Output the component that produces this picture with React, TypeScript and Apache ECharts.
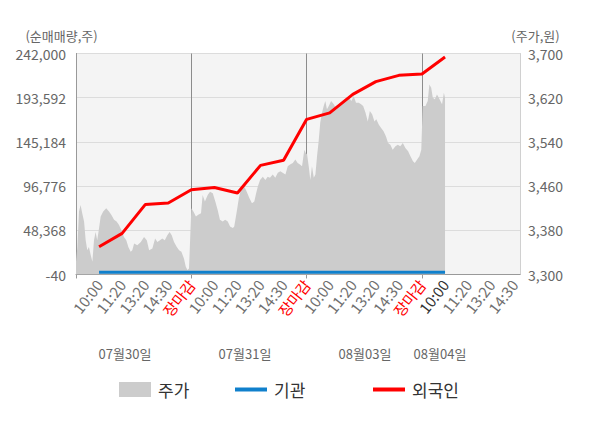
import React, { useEffect, useRef } from 'react';
import * as echarts from 'echarts';

// ---- data ----
const leftTicks = [-40, 48368, 96776, 145184, 193592, 242000];
const rightTicks = [3300, 3380, 3460, 3540, 3620, 3700];
const xLabelPos = [1, 2, 3, 4, 5, 6, 7, 8, 9, 10, 11, 12, 13, 14, 15, 16, 17, 18, 19];
const xLabels = [
  '10:00', '11:20', '13:20', '14:30', '장마감',
  '10:00', '11:20', '13:20', '14:30', '장마감',
  '10:00', '11:20', '13:20', '14:30', '장마감',
  '10:00', '11:20', '13:20', '14:30',
];
const dayBoundaries = [0, 5, 10, 15];
const dates = ['07월30일', '07월31일', '08월03일', '08월04일'];

const flowX = [1, 2, 3, 4, 5, 6, 7, 8, 9, 10, 11, 12, 13, 14, 15, 16];
const foreign = [30300, 45000, 76500, 78200, 92800, 95300, 89200, 119500, 125000, 169900, 177000, 197200, 211200, 218100, 219600, 238200];
const institution = [2500, 2500, 2500, 2500, 2500, 2500, 2500, 2500, 2500, 2500, 2500, 2500, 2500, 2500, 2500, 2500];

const priceX = [
  0, 0.06, 0.13, 0.2, 0.27, 0.35, 0.42, 0.49, 0.56, 0.64, 0.71, 0.78, 0.85, 0.92, 1.0, 1.07, 1.18, 1.31, 1.43, 1.53,
  1.65, 1.76, 1.86, 1.96, 2.08, 2.18, 2.27, 2.37, 2.44, 2.52, 2.66, 2.81, 2.95, 3.07, 3.17, 3.31, 3.43, 3.53, 3.64, 3.74,
  3.85, 3.96, 4.06, 4.15, 4.25, 4.37, 4.47, 4.57, 4.68, 4.76, 4.83, 4.9,
  5.0, 5.09, 5.2, 5.3, 5.42, 5.49, 5.59, 5.71, 5.81, 5.93, 6.04, 6.14, 6.24, 6.36, 6.47, 6.58, 6.68, 6.8, 6.86, 6.97,
  7.06, 7.16, 7.26, 7.37, 7.52, 7.63, 7.73, 7.81, 7.88, 7.98, 8.1, 8.21, 8.31, 8.41, 8.53, 8.64, 8.75, 8.86, 8.96, 9.08,
  9.18, 9.28, 9.4, 9.51, 9.61, 9.71, 9.8, 9.9, 9.96,
  10.02, 10.09, 10.16, 10.23, 10.31, 10.38, 10.45, 10.52, 10.59, 10.67, 10.74, 10.81, 10.88, 10.96, 11.06, 11.18, 11.29,
  11.39, 11.5, 11.61, 11.72, 11.83, 11.94, 12.04, 12.14, 12.26, 12.36, 12.45, 12.55, 12.65, 12.74, 12.84, 12.94, 13.02,
  13.13, 13.23, 13.34, 13.44, 13.53, 13.63, 13.73, 13.85, 13.95, 14.06, 14.17, 14.28, 14.4, 14.5, 14.61, 14.69, 14.79,
  14.89, 14.97,
  15.03, 15.15, 15.25, 15.32, 15.4, 15.47, 15.56, 15.65, 15.73, 15.8, 15.87, 15.95, 16.0,
];
const price = [
  3323, 3350, 3414, 3426, 3411, 3396, 3362, 3344, 3350, 3335, 3323, 3362, 3377, 3362, 3384, 3405, 3414, 3420, 3414, 3408,
  3399, 3396, 3390, 3381, 3368, 3362, 3350, 3341, 3344, 3356, 3353, 3359, 3368, 3362, 3344, 3347, 3365, 3359, 3362, 3365,
  3362, 3371, 3377, 3371, 3359, 3350, 3344, 3341, 3329, 3314, 3308, 3311,
  3420, 3414, 3405, 3408, 3411, 3444, 3432, 3444, 3450, 3447, 3432, 3417, 3399, 3396, 3399, 3396, 3387, 3384, 3387, 3414,
  3438, 3456, 3462, 3453, 3438, 3429, 3432, 3447, 3459, 3471, 3477, 3471, 3477, 3475, 3481, 3475, 3484, 3487, 3484, 3481,
  3496, 3499, 3502, 3508, 3502, 3499, 3496, 3526, 3520,
  3517, 3496, 3471, 3496, 3475, 3481, 3514, 3541, 3575, 3593, 3605, 3614, 3599, 3605, 3614, 3608, 3599,
  3605, 3611, 3614, 3617, 3620, 3614, 3623, 3611, 3611, 3608, 3605, 3593, 3577, 3596, 3590, 3577, 3581,
  3571, 3565, 3559, 3550, 3538, 3535, 3526, 3532, 3535, 3532, 3538, 3529, 3523, 3514, 3505, 3502, 3508,
  3514, 3526,
  3605, 3605, 3614, 3644, 3638, 3620, 3617, 3626, 3620, 3614, 3608, 3629, 3620,
];

const FONT = "'Noto Sans CJK KR', 'Noto Sans', sans-serif";

export default function App() {
  const ref = useRef<HTMLDivElement>(null);

  useEffect(() => {
    document.body.style.margin = '0';
    if (!ref.current) return;
    const chart = echarts.init(ref.current, undefined, { renderer: 'svg' });

    const fmt = (v: number) => Math.round(v).toLocaleString('en-US');

    const legendBase = {
      top: 376,
      icon: 'rect',
      itemWidth: 32,
      itemGap: 0,
      textStyle: { fontSize: 17, color: '#333', fontFamily: FONT, padding: [0, 0, 0, 2] },
    };

    chart.setOption({
      animation: false,
      textStyle: { fontFamily: FONT },
      grid: {
        left: 76,
        right: 80,
        top: 53.5,
        bottom: 153.5,
        containLabel: false,
        outerBoundsMode: 'none',
        show: true,
        backgroundColor: '#f4f4f4',
        borderWidth: 0,
      },
      legend: [
        { ...legendBase, left: 114, data: ['주가'], itemHeight: 15 },
        { ...legendBase, left: 230, data: ['기관'], itemHeight: 4 },
        { ...legendBase, left: 368, data: ['외국인'], itemHeight: 4 },
      ],
      xAxis: {
        type: 'value',
        min: 0,
        max: 19.25,
        axisLine: { show: true, lineStyle: { color: '#999', width: 1 } },
        axisTick: { show: true, customValues: dayBoundaries, length: 4, lineStyle: { color: '#999' } },
        splitLine: { show: true, lineStyle: { color: '#8c8c8c', width: 1 } },
        axisLabel: {
          customValues: xLabelPos,
          rotate: 52,
          margin: 7,
          fontSize: 15,
          color: '#707070',
          fontFamily: FONT,
          formatter: (v: number) => {
            const i = Math.round(v) - 1;
            const t = xLabels[i] ?? '';
            if (t === '장마감') return '{r|' + t + '}';
            if (i === 15) return '{d|' + t + '}';
            return t;
          },
          rich: {
            r: { color: '#ff0000', fontSize: 15, fontFamily: FONT },
            d: { color: '#333', fontSize: 15, fontFamily: FONT },
          },
        },
      },
      yAxis: [
        {
          type: 'value',
          position: 'left',
          min: -40,
          max: 242000,
          name: '(순매매량,주)',
          nameLocation: 'end',
          nameGap: 12,
          nameTextStyle: { color: '#666', fontSize: 13, fontFamily: FONT, align: 'center', padding: [0, 29, 0, 0] },
          axisLine: { show: true, lineStyle: { color: '#999' } },
          axisTick: { show: false, customValues: leftTicks },
          axisLabel: { customValues: leftTicks, formatter: fmt, color: '#666', fontSize: 14, margin: 10, fontFamily: FONT },
          splitLine: { show: true, lineStyle: { color: '#dcdcdc' } },
        },
        {
          type: 'value',
          position: 'right',
          min: 3300,
          max: 3700,
          name: '(주가,원)',
          nameLocation: 'end',
          nameGap: 12,
          nameTextStyle: { color: '#666', fontSize: 13, fontFamily: FONT, align: 'center', padding: [0, 0, 0, 31] },
          axisLine: { show: true, lineStyle: { color: '#d0d0d0' } },
          axisTick: { show: false, customValues: rightTicks },
          axisLabel: { customValues: rightTicks, formatter: fmt, color: '#666', fontSize: 14, margin: 8, fontFamily: FONT },
          splitLine: { show: false },
        },
      ],
      graphic: dates.map((d, i) => ({
        type: 'text',
        x: [125, 245, 365, 440][i],
        y: 353,
        style: { text: d, fill: '#666', fontSize: 13, fontFamily: FONT, align: 'center', verticalAlign: 'middle' },
      })),
      series: [
        {
          name: '주가',
          type: 'line',
          yAxisIndex: 1,
          data: priceX.map((x, i) => [x, price[i]]),
          symbol: 'none',
          showSymbol: false,
          lineStyle: { width: 0, color: '#cccccc' },
          itemStyle: { color: '#cccccc' },
          areaStyle: { color: '#cccccc', opacity: 1, origin: 'start' },
          z: 1,
        },
        {
          name: '기관',
          type: 'line',
          yAxisIndex: 0,
          data: flowX.map((x, i) => [x, institution[i]]),
          symbol: 'none',
          showSymbol: false,
          lineStyle: { width: 3, color: '#1080cc' },
          itemStyle: { color: '#1080cc' },
          z: 3,
        },
        {
          name: '외국인',
          type: 'line',
          yAxisIndex: 0,
          data: flowX.map((x, i) => [x, foreign[i]]),
          symbol: 'none',
          showSymbol: false,
          lineStyle: { width: 3, color: '#ff0000' },
          itemStyle: { color: '#ff0000' },
          z: 4,
        },
      ],
    });

    return () => chart.dispose();
  }, []);

  return <div ref={ref} style={{ width: 600, height: 428 }} />;
}
